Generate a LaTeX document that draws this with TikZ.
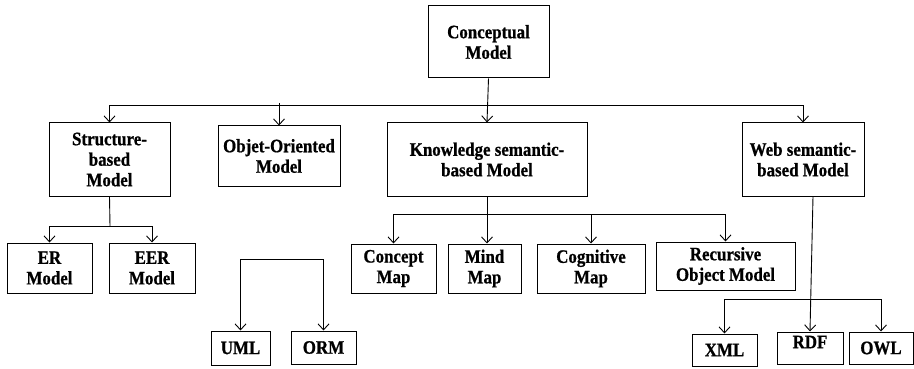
\documentclass[tikz,border=0pt]{standalone}
\usepackage{fontspec}
\setmainfont{Liberation Serif}
\newfontfamily\boxfont[FakeStretch=0.89,FakeBold=0.8]{Liberation Serif Bold}
\usetikzlibrary{arrows.meta}
\begin{document}
\begin{tikzpicture}[x=1pt,y=-1pt,
  box/.style={draw, line width=1pt, inner sep=0pt, align=center,
    font=\boxfont\fontsize{19}{20.5}\selectfont},
  arr/.style={line width=0.9pt, -{Straight Barb[length=6pt,width=11pt,line width=0.9pt]}},
  ln/.style={line width=0.9pt}]
\useasboundingbox (0,0) rectangle (914,369);
% nodes
\node[box, minimum width=121pt, minimum height=72pt] (concept) at (488.5,42) {Conceptual\\Model};
\node[box, minimum width=121pt, minimum height=73pt] (struct) at (109.5,159.5) {Structure-\\based\\Model};
\node[box, minimum width=122pt, minimum height=60pt] (objet) at (279,156) {Objet-Oriented\\Model};
\node[box, minimum width=200pt, minimum height=73pt] (know) at (487,159.5) {Knowledge semantic-\\based Model};
\node[box, minimum width=122pt, minimum height=73pt] (web) at (803,159.5) {Web semantic-\\based Model};
\node[box, minimum width=85pt, minimum height=50pt] (er) at (49.5,268) {ER\\Model};
\node[box, minimum width=86pt, minimum height=50pt] (eer) at (152,268) {EER\\Model};
\node[box, minimum width=59pt, minimum height=34pt] (uml) at (240.5,348) {UML};
\node[box, minimum width=65pt, minimum height=33pt] (orm) at (323.5,347.5) {ORM};
\node[box, minimum width=85pt, minimum height=49pt] (cmap) at (393.5,268.5) {Concept\\Map};
\node[box, minimum width=73pt, minimum height=49pt] (mmap) at (484.5,268.5) {Mind\\Map};
\node[box, minimum width=108pt, minimum height=49pt] (cog) at (591,268.5) {Cognitive\\Map};
\node[box, minimum width=139pt, minimum height=48pt] (rom) at (725.5,266) {Recursive\\Object Model};
\node[box, minimum width=65pt, minimum height=32pt] (xml) at (724.5,350) {XML};
\node[box, minimum width=66pt, minimum height=32pt] (rdf) at (810,348) {\raisebox{12pt}{RDF}};
\node[box, minimum width=64pt, minimum height=32pt] (owl) at (881,348) {OWL};
% bus coordinates
\coordinate (b1) at (488,105);
\coordinate (b2) at (110,226);
\coordinate (b3) at (282,259);
\coordinate (b4) at (487,214);
\coordinate (b5) at (811,299);
% connectors
\draw[arr] (concept.south) -- (know.north);
\draw[arr] (b1) -| (struct.north);
\draw[arr] (b1) -| (web.north);
\draw[arr] (objet.north |- b1) ++(0,-2) -- (objet.north);
\draw[ln] (struct.south) -- (b2);
\draw[arr] (b2) -| (er.north);
\draw[arr] (b2) -| (eer.north);
\draw[arr] (b3) -| (uml.north);
\draw[arr] (b3) -| (orm.north);
\draw[arr] (know.south) -- (know.south |- mmap.north);
\draw[arr] (b4) -| (cmap.north);
\draw[arr] (b4) -| (cog.north);
\draw[arr] (b4) -| (rom.north);
\draw[arr] ([xshift=10pt]web.south) -- (rdf.north);
\draw[arr] (b5) -| (xml.north);
\draw[arr] (b5) -| (owl.north);
\end{tikzpicture}
\end{document}
